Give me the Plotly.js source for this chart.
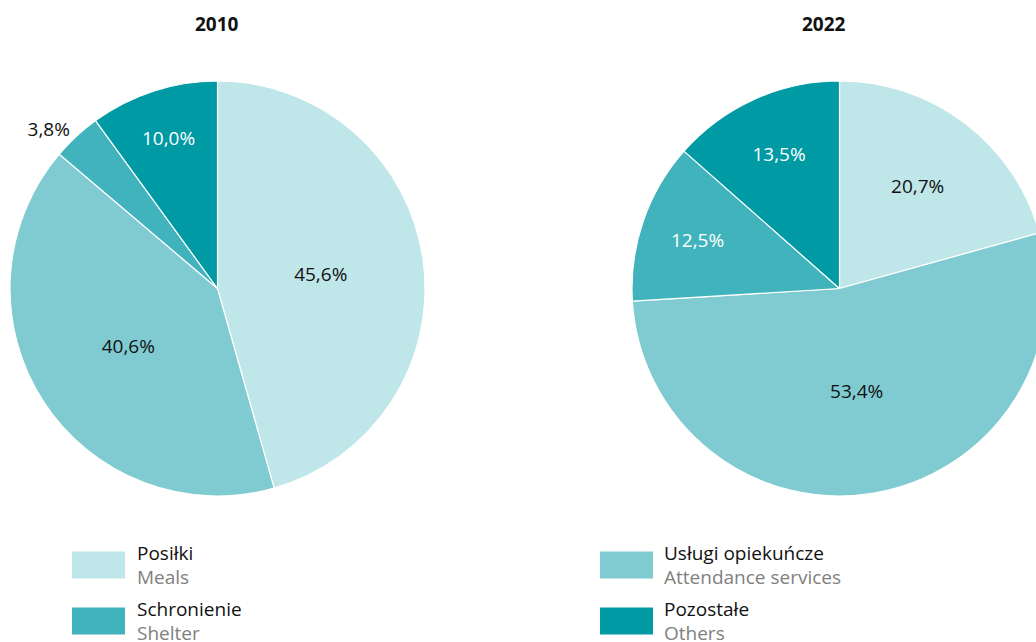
<!DOCTYPE html>
<html>
<head>
<meta charset="utf-8">
<script src="https://cdn.plot.ly/plotly-3.0.1.min.js"></script>
<style>
html,body{margin:0;padding:0;overflow:hidden;background:#fff;width:1036px;height:642px;}
#chart{width:1060px;height:642px;}
</style>
</head>
<body>
<div id="chart"></div>
<script>
const categoriesPL = ["Posiłki", "Usługi opiekuńcze", "Schronienie", "Pozostałe"];
const categoriesEN = ["Meals", "Attendance services", "Shelter", "Others"];
const values2010 = [45.6, 40.6, 3.8, 10.0];
const values2022 = [20.7, 53.4, 12.5, 13.5];
const years = ["2010", "2022"];
const colors = ["#bfe6e8", "#80cbd1", "#41b3bc", "#009aa5"];
const insideColors = ["#111111", "#111111", "#ffffff", "#ffffff"];

const W = 1060, H = 642;
const px = x => x / W;
const py = y => 1 - y / H;
const fmt = v => v.toFixed(1).replace('.', ',') + '%';
const FONT = "Open Sans, Noto Sans, sans-serif";

function pieTrace(vals, x0, x1, positions) {
  return {
    type: 'pie',
    values: vals,
    labels: categoriesPL,
    text: vals.map(fmt),
    textinfo: 'text',
    texttemplate: '%{text}',
    hoverinfo: 'label+text',
    sort: false,
    direction: 'clockwise',
    rotation: 0,
    marker: {colors: colors, line: {color: '#ffffff', width: 1.2}},
    textposition: positions,
    insidetextorientation: 'horizontal',
    insidetextfont: {family: FONT, size: 19, color: insideColors},
    outsidetextfont: {family: FONT, size: 19, color: '#111111'},
    showlegend: false,
    domain: {x: [px(x0), px(x1)], y: [py(496), py(81)]}
  };
}

const data = [
  pieTrace(values2010, 10, 425, ['inside', 'inside', 'outside', 'inside']),
  pieTrace(values2022, 632, 1047, ['inside', 'inside', 'inside', 'inside'])
];

const annotations = [
  {text: '<b>' + years[0] + '</b>', x: px(217), y: py(24)},
  {text: '<b>' + years[1] + '</b>', x: px(824), y: py(24)}
].map(a => Object.assign(a, {xref: 'paper', yref: 'paper', showarrow: false,
  xanchor: 'center', yanchor: 'middle', font: {family: FONT, size: 19, color: '#111'}}));

const shapes = [];
const legendPos = [
  {i: 0, sx: 72, tx: 135, y: 565},
  {i: 2, sx: 72, tx: 135, y: 621},
  {i: 1, sx: 600, tx: 662, y: 565},
  {i: 3, sx: 600, tx: 662, y: 621}
];
legendPos.forEach(p => {
  shapes.push({type: 'rect', xref: 'paper', yref: 'paper',
    x0: px(p.sx), x1: px(p.sx + 53), y0: py(p.y + 13.5), y1: py(p.y - 13.5),
    fillcolor: colors[p.i], line: {width: 0}});
  annotations.push({text: categoriesPL[p.i], xref: 'paper', yref: 'paper', showarrow: false,
    x: px(p.tx), y: py(p.y - 12), xanchor: 'left', yanchor: 'middle',
    font: {family: FONT, size: 19, color: '#111'}});
  annotations.push({text: categoriesEN[p.i], xref: 'paper', yref: 'paper', showarrow: false,
    x: px(p.tx), y: py(p.y + 12), xanchor: 'left', yanchor: 'middle',
    font: {family: FONT, size: 19, color: '#808080'}});
});

const layout = {
  width: W, height: H,
  margin: {l: 0, r: 0, t: 0, b: 0},
  paper_bgcolor: '#fff',
  showlegend: false,
  annotations: annotations,
  shapes: shapes,
  font: {family: FONT}
};

Plotly.newPlot('chart', data, layout, {displayModeBar: false, staticPlot: true});
</script>
</body>
</html>
